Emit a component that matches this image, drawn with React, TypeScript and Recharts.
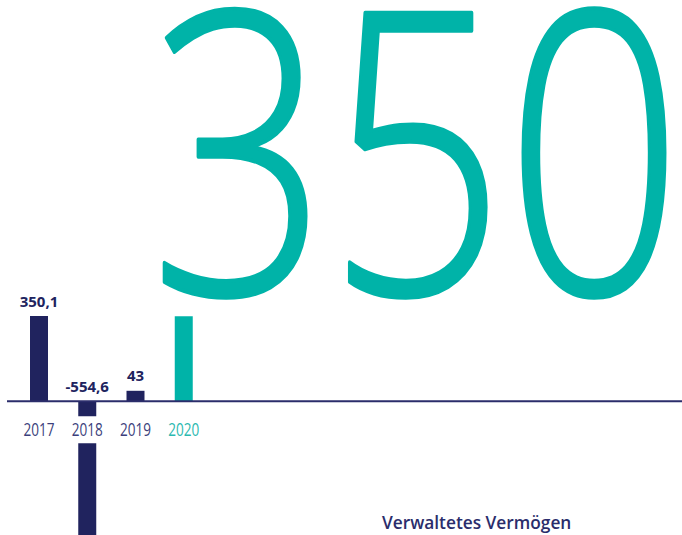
import { Bar, BarChart, Cell, LabelList, ReferenceLine, XAxis, YAxis } from "recharts";

const years = ["2017", "2018", "2019", "2020"];
const values = [350.1, -554.6, 43, 350];
const valueLabels = ["350,1", "-554,6", "43", ""];
const highlightYear = "2020";
const bigNumber = "350";
const title = "Verwaltetes Vermögen";

const NAVY = "#20235e";
const TEAL = "#00b3a8";

const data = years.map((year, i) => ({ year, value: values[i] }));

function zeroOf(props: any) {
  const vb = props.viewBox ?? props;
  const top = Math.min(vb.y, vb.y + vb.height);
  const bottom = Math.max(vb.y, vb.y + vb.height);
  return { vb, top, bottom, zero: values[props.index] >= 0 ? bottom : top };
}

function YearTick(props: any) {
  const { vb, zero } = zeroOf(props);
  const year = years[props.index];
  const cx = vb.x + vb.width / 2;
  return (
    <g>
      {values[props.index] < 0 && (
        <rect x={vb.x - 1} y={zero + 15} width={vb.width + 2} height={27} fill="#fff" />
      )}
      <text
        x={cx}
        y={zero + 35}
        textAnchor="middle"
        textLength={31}
        lengthAdjust="spacingAndGlyphs"
        fontFamily="'Open Sans', sans-serif"
        fontWeight={400}
        fontSize={18}
        fill={year === highlightYear ? "#2bb9b0" : "#3c3f7c"}
      >
        {year}
      </text>
    </g>
  );
}

function ValueLabel(props: any) {
  const label = valueLabels[props.index];
  if (!label) return null;
  const { vb, top, zero } = zeroOf(props);
  const anchorY = values[props.index] >= 0 ? top : zero;
  return (
    <text
      x={vb.x + vb.width / 2}
      y={anchorY - 9.5}
      textAnchor="middle"
      fontFamily="'Open Sans', sans-serif"
      fontWeight={700}
      fontSize={15}
      fill={NAVY}
    >
      {label}
    </text>
  );
}

export default function App() {
  return (
    <div style={{ position: "relative", width: 682, height: 535, overflow: "hidden", background: "#fff" }}>
      <style>{"body{margin:0}"}</style>
      <svg width={682} height={535} style={{ position: "absolute", left: 0, top: 0 }}>
        <text
          x={0}
          y={0}
          transform="translate(150 294) scale(0.79 1)"
          fontFamily="'Open Sans', sans-serif"
          fontWeight={300}
          fontSize={394}
          fill={TEAL}
          stroke={TEAL}
          strokeWidth={4}
          strokeLinejoin="round"
        >
          {bigNumber}
        </text>
      </svg>
      <div style={{ position: "absolute", left: 0, top: 0 }}>
        <BarChart width={682} height={535} data={data} margin={{ top: 0, right: 0, bottom: 0, left: 7 }}>
          <XAxis dataKey="year" hide padding={{ left: 8, right: 474 }} />
          <YAxis hide domain={[-550, 1650]} allowDataOverflow />
          <Bar dataKey="value" barSize={18} isAnimationActive={false}>
            {data.map((d) => (
              <Cell key={d.year} fill={d.year === highlightYear ? TEAL : NAVY} />
            ))}
            <LabelList dataKey="year" content={YearTick} />
            <LabelList dataKey="value" content={ValueLabel} />
          </Bar>
          <ReferenceLine y={0} stroke="#2b2d6b" strokeWidth={2} />
        </BarChart>
      </div>
      <div
        style={{
          position: "absolute",
          left: 382,
          top: 511,
          fontFamily: "'Open Sans', sans-serif",
          fontWeight: 600,
          fontSize: 17.3,
          color: "#2a2d6b",
          whiteSpace: "nowrap",
        }}
      >
        {title}
      </div>
    </div>
  );
}
